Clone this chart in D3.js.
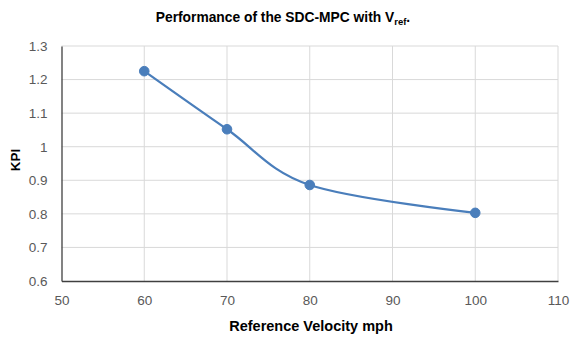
<!DOCTYPE html>
<html><head><meta charset="utf-8">
<script src="https://cdn.jsdelivr.net/npm/d3@7"></script>
<style>body{margin:0;background:#fff}svg{display:block}</style>
</head><body>
<svg id="c" width="571" height="337"></svg>
<script>
const velocities = [60, 70, 80, 100];
const kpiValues = [1.225, 1.052, 0.886, 0.803];
const xTicks = [50, 60, 70, 80, 90, 100, 110];
const yTicks = [0.6, 0.7, 0.8, 0.9, 1.0, 1.1, 1.2, 1.3];

const svg = d3.select("#c");
const font = "Liberation Sans, Arial, sans-serif";
const x = d3.scaleLinear().domain([50, 110]).range([61.5, 558]);
const y = d3.scaleLinear().domain([0.6, 1.3]).range([281, 46]);

// gridlines
svg.append("g").selectAll("line.h").data(yTicks.slice(1)).join("line")
  .attr("x1", x(50)).attr("x2", x(110)).attr("y1", d => y(d)).attr("y2", d => y(d))
  .attr("stroke", "#d9d9d9").attr("stroke-width", 1);
svg.append("g").selectAll("line.v").data(xTicks.slice(1)).join("line")
  .attr("y1", y(0.6)).attr("y2", y(1.3)).attr("x1", d => x(d)).attr("x2", d => x(d))
  .attr("stroke", "#d9d9d9").attr("stroke-width", 1);

// axes
const xAxis = d3.axisBottom(x).tickValues(xTicks).tickSize(0).tickPadding(14);
const gx = svg.append("g").attr("transform", `translate(0,${y(0.6)})`).call(xAxis);
const yAxis = d3.axisLeft(y).tickValues(yTicks).tickSize(0).tickPadding(14).tickFormat(d => d3.format("")(+d.toFixed(1)));
const gy = svg.append("g").attr("transform", `translate(${x(50)},0)`).call(yAxis);
[gx, gy].forEach(g => {
  g.select(".domain").attr("stroke", "#404040").attr("stroke-width", 1.3);
  g.selectAll("text").attr("fill", "#595959").style("font-family", font).style("font-size", "13.5px");
});

// line
const pts = velocities.map((v, i) => [v, kpiValues[i]]);
const line = d3.line().x(d => x(d[0])).y(d => y(d[1])).curve(d3.curveCatmullRom.alpha(0));
svg.append("path").datum(pts).attr("d", line).attr("fill", "none")
  .attr("stroke", "#4A7EBB").attr("stroke-width", 2.25).attr("stroke-linecap", "round");
svg.append("g").selectAll("circle").data(pts).join("circle")
  .attr("cx", d => x(d[0])).attr("cy", d => y(d[1])).attr("r", 4.8)
  .attr("fill", "#4A7EBB").attr("stroke", "#4A7EBB").attr("stroke-width", 1);

// title
const t = svg.append("text").attr("x", 283).attr("y", 22).attr("text-anchor", "middle")
  .style("font-family", font).style("font-size", "13.8px").style("font-weight", "bold").attr("fill", "#000");
t.append("tspan").text("Performance of the SDC-MPC with V");
t.append("tspan").attr("dy", 3).style("font-size", "9.5px").text("ref");
t.append("tspan").attr("dy", -3).text(".");

// axis titles
svg.append("text").attr("x", 311).attr("y", 331).attr("text-anchor", "middle")
  .style("font-family", font).style("font-size", "14.5px").style("font-weight", "bold").text("Reference Velocity mph");
svg.append("text").attr("transform", "translate(20,160) rotate(-90)").attr("text-anchor", "middle")
  .style("font-family", font).style("font-size", "13.5px").style("font-weight", "bold").text("KPI");
</script>
</body></html>
